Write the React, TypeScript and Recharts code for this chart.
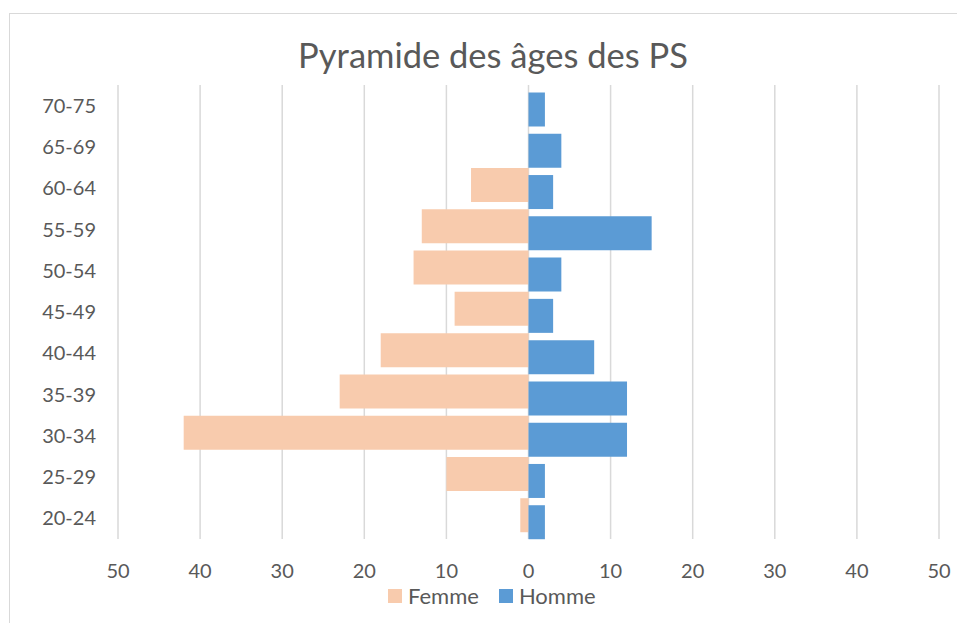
import { BarChart, Bar, XAxis, YAxis, CartesianGrid, Rectangle } from 'recharts';

const ageGroups = ['20-24', '25-29', '30-34', '35-39', '40-44', '45-49', '50-54', '55-59', '60-64', '65-69', '70-75'];
const femme = [1, 10, 42, 23, 18, 9, 14, 13, 7, 0, 0];
const homme = [2, 2, 12, 12, 8, 3, 4, 15, 3, 4, 2];
const xTicks = [-50, -40, -30, -20, -10, 0, 10, 20, 30, 40, 50];

const FONT = 'Lato, "Noto Sans", sans-serif';
const TEXT = '#595959';

// top of the pyramid first (vertical layout draws first row at the top)
const data = ageGroups
    .map((age, i) => ({ age, Femme: -femme[i], Homme: homme[i] }))
    .reverse();

// Excel-style partial overlap: femme bar sits a bit higher, homme a bit lower
const shifted = (dy: number) => (props: any) => <Rectangle {...props} y={props.y + dy} />;

export default function App() {
    return (
        <div style={{ position: 'absolute', left: 0, top: 0, width: 957, height: 623, background: '#fff' }}>
            <div style={{
                position: 'absolute', left: 9, top: 13, width: 948, height: 610,
                borderTop: '1.5px solid #d9d9d9', borderLeft: '1.5px solid #d9d9d9'
            }} />
            <div style={{
                position: 'absolute', top: 34, left: 0, width: 986, textAlign: 'center',
                fontFamily: FONT, fontSize: 34.5, color: TEXT
            }}>
                Pyramide des âges des PS
            </div>
            <BarChart
                width={957}
                height={623}
                data={data}
                layout="vertical"
                margin={{ top: 85, right: 18, bottom: 54, left: 0 }}
                barSize={34}
                stackOffset="sign"
                style={{ position: 'absolute', left: 0, top: 0 }}
            >
                <CartesianGrid horizontal={false} stroke="#d9d9d9" strokeWidth={1.5} />
                <XAxis
                    type="number"
                    domain={[-50, 50]}
                    ticks={xTicks}
                    tickFormatter={(v: number) => String(Math.abs(v))}
                    axisLine={false}
                    tickLine={false}
                    tickSize={0}
                    tickMargin={25}
                    height={30}
                    tick={{ fill: TEXT, fontSize: 20, fontFamily: FONT }}
                    interval={0}
                />
                <YAxis
                    type="category"
                    dataKey="age"
                    width={118}
                    axisLine={false}
                    tickLine={false}
                    tickSize={0}
                    tickMargin={22}
                    tick={{ fill: TEXT, fontSize: 20, fontFamily: FONT }}
                    interval={0}
                />
                <Bar dataKey="Femme" stackId="pyr" fill="#F8CBAD" shape={shifted(-3.5)} isAnimationActive={false} />
                <Bar dataKey="Homme" stackId="pyr" fill="#5B9BD5" shape={shifted(3.5)} isAnimationActive={false} />
            </BarChart>
            <div style={{
                position: 'absolute', left: 388, top: 585, display: 'flex', alignItems: 'center',
                fontFamily: FONT, fontSize: 22, lineHeight: '21px', color: TEXT
            }}>
                <span style={{ width: 14, height: 14, background: '#F8CBAD', display: 'inline-block', marginRight: 6 }} />
                <span style={{ marginRight: 20 }}>Femme</span>
                <span style={{ width: 14, height: 14, background: '#5B9BD5', display: 'inline-block', marginRight: 6 }} />
                <span>Homme</span>
            </div>
        </div>
    );
}
